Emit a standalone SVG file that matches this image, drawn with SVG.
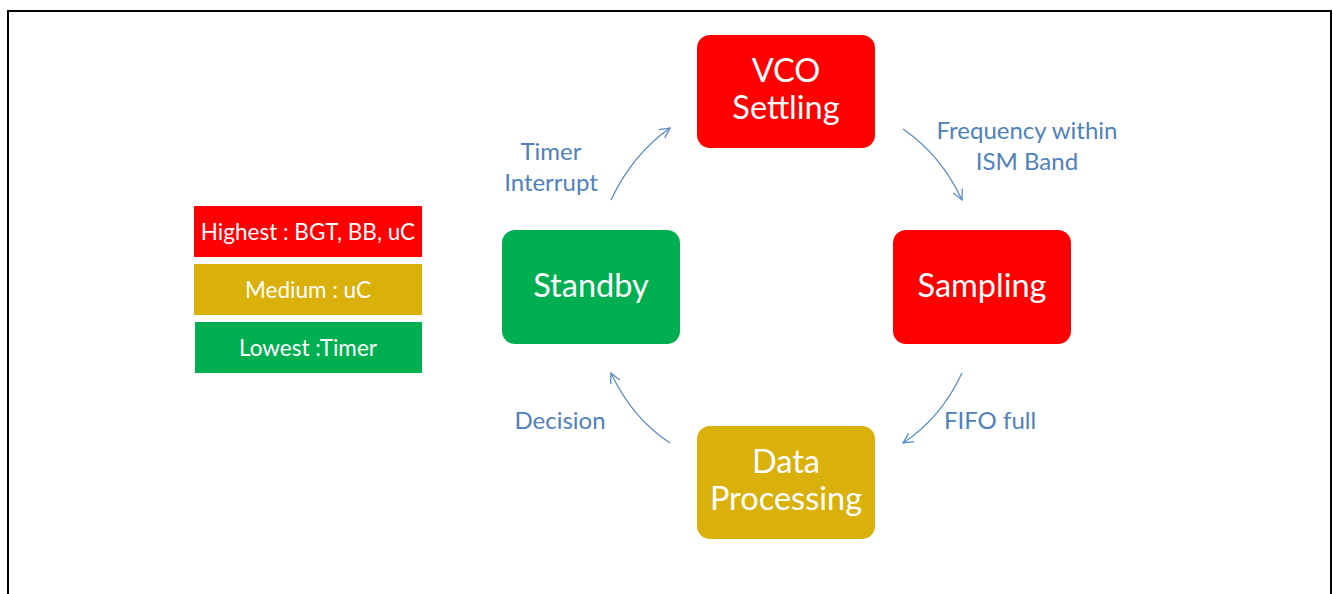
<svg xmlns="http://www.w3.org/2000/svg" width="1333" height="594" viewBox="0 0 1333 594">
<defs>
<style>
.node text{font-family:Lato,"Open Sans",sans-serif;fill:#fff;text-anchor:middle;font-size:32.5px}
.leg text{font-family:Lato,"Open Sans",sans-serif;fill:#fff;text-anchor:middle;font-size:22.5px}
.lbl{font-family:Lato,"Open Sans",sans-serif;fill:#4F81BD;text-anchor:middle;font-size:24px}
.conn path{fill:none;stroke:#5B8BC9;stroke-width:1.3;marker-end:url(#ah)}
</style>
<marker id="ah" viewBox="0 0 12 12" refX="11" refY="6" markerWidth="12" markerHeight="12" markerUnits="userSpaceOnUse" orient="auto">
<path d="M1,1 L11,6 L1,11" fill="none" stroke="#5B8BC9" stroke-width="1.3"/>
</marker>
</defs>
<rect x="0" y="0" width="1333" height="594" fill="#fff"/>
<path d="M8,600 V11 H1331 V600" fill="none" stroke="#000" stroke-width="2"/>
<g id="legend" class="leg">
<rect x="194" y="206" width="228" height="51" fill="#FF0000"/>
<text x="308" y="240">Highest : BGT, BB, uC</text>
<rect x="194" y="264" width="228" height="51" fill="#DAB10A"/>
<text x="308" y="298">Medium : uC</text>
<rect x="195" y="322" width="227" height="51" fill="#00B050"/>
<text x="308" y="356">Lowest :Timer</text>
</g>
<g id="vco" class="node">
<rect x="697" y="35" width="178" height="113" rx="13" fill="#FF0000"/>
<text x="786" y="82">VCO</text>
<text x="786" y="119">Settling</text>
</g>
<g id="sampling" class="node">
<rect x="893" y="230" width="178" height="114" rx="13" fill="#FF0000"/>
<text x="982" y="297">Sampling</text>
</g>
<g id="standby" class="node">
<rect x="502" y="230" width="178" height="114" rx="13" fill="#00B050"/>
<text x="591" y="297">Standby</text>
</g>
<g id="dataproc" class="node">
<rect x="697" y="426" width="178" height="113" rx="13" fill="#DAB10A"/>
<text x="786" y="473">Data</text>
<text x="786" y="510">Processing</text>
</g>
<g id="connectors" class="conn">
<path d="M611,200 Q632,155 670,128"/>
<path d="M903,129 Q941,155 962,200"/>
<path d="M962,373 Q941,418 903,443"/>
<path d="M670,443 Q632,418 611,373"/>
</g>
<g id="labels">
<text class="lbl" x="551" y="160">Timer</text>
<text class="lbl" x="551" y="191">Interrupt</text>
<text class="lbl" x="1027" y="139">Frequency within</text>
<text class="lbl" x="1027" y="170">ISM Band</text>
<text class="lbl" x="990" y="429">FIFO full</text>
<text class="lbl" x="560" y="429">Decision</text>
</g>
</svg>
